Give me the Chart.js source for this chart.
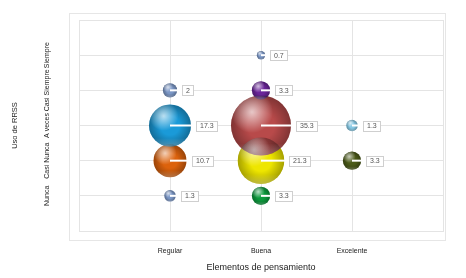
<!DOCTYPE html>
<html>
<head>
<meta charset="utf-8">
<script src="https://cdn.jsdelivr.net/npm/chart.js@4.4.1/dist/chart.umd.min.js"></script>
<style>
  html, body { margin: 0; padding: 0; background: #fff; }
  #wrap { width: 466px; height: 278px; }
</style>
</head>
<body>
<div id="wrap"><canvas id="c"></canvas></div>
<script>
// axis labels (index = axis value)
const xLabels = ['', 'Regular', 'Buena', 'Excelente', ''];
const yLabels = ['', 'Nunca', 'Casi Nunca', 'A veces', 'Casi Siempre', 'Siempre', ''];

// % per level, ordered Nunca .. Siempre
const regular   = [1.3, 10.7, 17.3, 2, null];
const buena     = [3.3, 21.3, 35.3, 3.3, 0.7];
const excelente = [null, 3.3, 1.3, null, null];

const regularColors   = ['#7b97c6', '#dc620c', '#1a9ad8', '#7b97c6', null];
const buenaColors     = ['#0c9a3c', '#eee600', '#b84a4a', '#6a249a', '#7b97c6'];
const excelenteColors = [null, '#4b5a18', '#86c8e4', null, null];

const FONT = "'Liberation Sans', Arial, sans-serif";

function toPoints(values, xi) {
  return values
    .map((v, j) => (v == null ? null : { x: xi, y: j + 1, v }))
    .filter(Boolean);
}

function makeSet(values, xi, colors) {
  return {
    data: toPoints(values, xi),
    backgroundColor: ctx => colors[ctx.raw.y - 1],
    borderWidth: 0,
    radius: ctx => 5.05 * Math.sqrt(ctx.raw.v),
  };
}

// light frame around the plot
const frame = {
  id: 'frame',
  beforeDraw(chart) {
    const { ctx, chartArea: a } = chart;
    ctx.save();
    ctx.strokeStyle = '#e6e6e6';
    ctx.lineWidth = 1;
    ctx.strokeRect(a.left - 9.5, a.top - 6.5, a.right - a.left + 12, a.bottom - a.top + 16);
    ctx.restore();
  },
};

// rotated y tick labels
const yTicks = {
  id: 'yTicks',
  afterDraw(chart) {
    const { ctx } = chart;
    const ys = chart.scales.y;
    ctx.save();
    ctx.font = '7px ' + FONT;
    ctx.fillStyle = '#222';
    ctx.textAlign = 'center';
    ctx.textBaseline = 'middle';
    yLabels.forEach((lab, i) => {
      if (!lab) return;
      ctx.save();
      ctx.translate(47, ys.getPixelForValue(i));
      ctx.rotate(-Math.PI / 2);
      ctx.fillText(lab, 0, 0);
      ctx.restore();
    });
    ctx.restore();
  },
};

// 3D-ish shading and value boxes
const spheres = {
  id: 'spheres',
  afterDatasetsDraw(chart) {
    const c = chart.ctx;
    const items = [];
    chart.data.datasets.forEach((ds, i) => {
      chart.getDatasetMeta(i).data.forEach((el, k) => {
        const { x, y } = el;
        const r = el.options.radius;
        items.push({ x, y, r, v: ds.data[k].v });
        c.save();
        c.beginPath();
        c.arc(x, y, r, 0, Math.PI * 2);
        c.clip();
        let g = c.createRadialGradient(x, y, r * 0.45, x, y, r);
        g.addColorStop(0, 'rgba(0,0,0,0)');
        g.addColorStop(1, 'rgba(0,0,0,0.3)');
        c.fillStyle = g;
        c.fillRect(x - r, y - r, 2 * r, 2 * r);
        const hx = x - r * 0.3, hy = y - r * 0.45;
        g = c.createRadialGradient(hx, hy, 0, hx, hy, r * 0.7);
        g.addColorStop(0, 'rgba(255,255,255,0.7)');
        g.addColorStop(1, 'rgba(255,255,255,0)');
        c.fillStyle = g;
        c.fillRect(x - r, y - r, 2 * r, 2 * r);
        g = c.createLinearGradient(0, y + r * 0.6, 0, y + r);
        g.addColorStop(0, 'rgba(255,255,255,0)');
        g.addColorStop(1, 'rgba(255,255,255,0.25)');
        c.fillStyle = g;
        c.fillRect(x - r, y + r * 0.6, 2 * r, r * 0.4);
        c.restore();
      });
    });

    c.save();
    c.font = '7px ' + FONT;
    c.textBaseline = 'middle';
    items.forEach(p => {
      const txt = String(p.v);
      const bx = Math.round(p.x + p.r + 5) + 0.5;
      const w = Math.ceil(c.measureText(txt).width) + 7;
      const by = Math.round(p.y - 5) + 0.5;
      c.strokeStyle = '#fff';
      c.lineWidth = 2;
      c.beginPath();
      c.moveTo(p.x, p.y);
      c.lineTo(bx, p.y);
      c.stroke();
      c.fillStyle = '#fff';
      c.fillRect(bx, by, w, 10);
      c.strokeStyle = '#cfcfcf';
      c.lineWidth = 1;
      c.strokeRect(bx, by, w, 10);
      c.fillStyle = '#555';
      c.fillText(txt, bx + 3.5, p.y + 0.5);
    });
    c.restore();
  },
};

new Chart(document.getElementById('c'), {
  type: 'bubble',
  data: {
    datasets: [
      makeSet(regular, 1, regularColors),
      makeSet(buena, 2, buenaColors),
      makeSet(excelente, 3, excelenteColors),
    ],
  },
  options: {
    responsive: true,
    maintainAspectRatio: false,
    animation: false,
    events: [],
    layout: { autoPadding: false, padding: { top: 20, right: 23, left: 0, bottom: 0 } },
    plugins: { legend: { display: false }, tooltip: { enabled: false } },
    scales: {
      x: {
        type: 'linear', min: 0, max: 4,
        afterFit: s => { s.height = 47; },
        grid: { color: '#e4e4e4', drawTicks: false },
        border: { color: '#e4e4e4' },
        ticks: {
          stepSize: 1, padding: 16, color: '#222',
          font: { family: FONT, size: 7 },
          callback: v => xLabels[v] || '',
        },
        title: {
          display: true, text: 'Elementos de pensamiento', color: '#222',
          font: { family: FONT, size: 9 }, padding: { top: 0, bottom: 4.6 },
        },
      },
      y: {
        type: 'linear', min: 0, max: 6,
        afterFit: s => { s.width = 79; },
        grid: { color: '#e4e4e4', drawTicks: false },
        border: { color: '#e4e4e4' },
        ticks: { stepSize: 1, display: false },
        title: {
          display: true, text: 'Uso de RRSS', color: '#222',
          font: { family: FONT, size: 7.5 }, padding: { top: 10.5, bottom: 0 },
        },
      },
    },
  },
  plugins: [frame, spheres, yTicks],
});
</script>
</body>
</html>
